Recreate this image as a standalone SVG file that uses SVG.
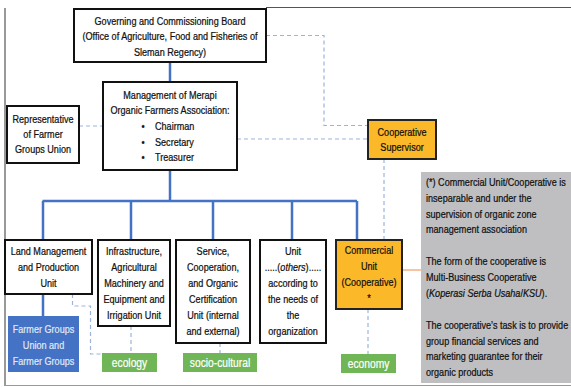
<svg xmlns="http://www.w3.org/2000/svg" width="571" height="387" viewBox="0 0 571 387">
<style>
text { font-family: "Liberation Sans", Arial, sans-serif; font-size: 11.5px; fill: #111; stroke: #111; stroke-width: 0.25px; }
.c { text-anchor: middle; transform-box: fill-box; transform-origin: 50% 50%; transform: scaleX(0.79); }
.l { transform-box: fill-box; transform-origin: 0% 50%; transform: scaleX(0.79); }
.g { font-size: 12.5px; fill: #fff; stroke: #fff; stroke-width: 0.2px; text-anchor: middle; transform-box: fill-box; transform-origin: 50% 50%; transform: scaleX(0.82); }
.w { fill: #E2EAF6; stroke: #E2EAF6; stroke-width: 0.2px; }
.box { fill: #fff; stroke: #111; stroke-width: 2; }
.org { fill: #FBB829; stroke: #222; stroke-width: 2; }
.grn { fill: #70B657; }
.solid { fill: none; stroke: #4472C4; stroke-width: 2.5; }
.dash { fill: none; stroke: #9AB3E0; stroke-width: 1.2; stroke-dasharray: 4 3; }
.frame { fill: none; stroke: #555; stroke-width: 1.2; }
</style>
<rect width="571" height="387" fill="#fff"/>
<g id="frame">
  <path class="frame" d="M5 8 V386"/>
  <path class="frame" d="M266 7.5 H571" stroke-width="1.5"/>
  <path d="M5 385.5 H571" fill="none" stroke="#999" stroke-width="1"/>
</g>
<g id="connectors">
  <path class="solid" d="M170 62 V82"/>
  <path class="solid" d="M170 170 V201"/>
  <path class="solid" d="M42.5 201 H357"/>
  <path class="solid" d="M43 201 V240 M131 201 V240 M213 201 V240 M292 201 V240 M357 201 V240"/>
  <path class="solid" d="M43 294 V316"/>
  <path class="dash" d="M79 126 H103"/>
  <path class="dash" d="M266 35.5 H324 V125.5 H368"/>
  <path class="dash" d="M237 139 H368"/>
  <path class="dash" d="M384 159 V240"/>
  <path class="dash" d="M72.5 294 V306 H90.5 V354 H102"/>
  <path class="dash" d="M131 326 V353"/>
  <path class="dash" d="M220 343 V353"/>
  <path class="dash" d="M368 309 V354"/>
  <path d="M402 270 H421" fill="none" stroke="#F4B183" stroke-width="1.5"/>
</g>
<g id="governing">
  <rect class="box" x="74" y="9" width="192" height="53"/>
  <text class="c" x="170" y="25">Governing and Commissioning Board</text>
  <text class="c" x="170" y="40.5">(Office of Agriculture, Food and Fisheries of</text>
  <text class="c" x="170" y="56">Sleman Regency)</text>
</g>
<g id="management">
  <rect class="box" x="103" y="82" width="134" height="88"/>
  <text class="c" x="170" y="99">Management of Merapi</text>
  <text class="c" x="170" y="114">Organic Farmers Association:</text>
  <text class="c" x="143" y="130">•</text>
  <text class="l" x="155" y="130">Chairman</text>
  <text class="c" x="143" y="146">•</text>
  <text class="l" x="155" y="146">Secretary</text>
  <text class="c" x="143" y="161">•</text>
  <text class="l" x="155" y="161">Treasurer</text>
</g>
<g id="representative">
  <rect class="box" x="7" y="106" width="72" height="57"/>
  <text class="c" x="43" y="123">Representative</text>
  <text class="c" x="43" y="138">of Farmer</text>
  <text class="c" x="43" y="153">Groups Union</text>
</g>
<g id="supervisor">
  <rect class="org" x="368" y="120" width="68" height="39"/>
  <text class="c" x="402" y="136.5">Cooperative</text>
  <text class="c" x="402" y="151.5">Supervisor</text>
</g>
<g id="land">
  <rect class="box" x="5" y="240" width="87" height="54"/>
  <text class="c" x="48.5" y="255.5">Land Management</text>
  <text class="c" x="48.5" y="271.5">and Production</text>
  <text class="c" x="48.5" y="287">Unit</text>
</g>
<g id="infrastructure">
  <rect class="box" x="98" y="240" width="72" height="86"/>
  <text class="c" x="134" y="255.5">Infrastructure,</text>
  <text class="c" x="134" y="271.5">Agricultural</text>
  <text class="c" x="134" y="287">Machinery and</text>
  <text class="c" x="134" y="303">Equipment and</text>
  <text class="c" x="134" y="319">Irrigation Unit</text>
</g>
<g id="service">
  <rect class="box" x="176" y="240" width="74" height="103"/>
  <text class="c" x="213" y="255.5">Service,</text>
  <text class="c" x="213" y="271.5">Cooperation,</text>
  <text class="c" x="213" y="287">and Organic</text>
  <text class="c" x="213" y="303">Certification</text>
  <text class="c" x="213" y="319">Unit (internal</text>
  <text class="c" x="213" y="335">and external)</text>
</g>
<g id="unit-others">
  <rect class="box" x="260" y="240" width="66" height="103"/>
  <text class="c" x="293" y="255.5">Unit</text>
  <text class="c" x="293" y="271.5">.....(<tspan font-style="italic">others</tspan>).....</text>
  <text class="c" x="293" y="287">according to</text>
  <text class="c" x="293" y="303">the needs of</text>
  <text class="c" x="293" y="319">the</text>
  <text class="c" x="293" y="335">organization</text>
</g>
<g id="commercial">
  <rect class="org" x="336" y="240" width="66" height="69"/>
  <text class="c" x="369" y="254.5">Commercial</text>
  <text class="c" x="369" y="270.5">Unit</text>
  <text class="c" x="369" y="286.5">(Cooperative)</text>
  <text class="c" x="369" y="302.5">*</text>
</g>
<g id="farmer-groups">
  <rect x="8" y="316" width="71" height="56" fill="#4472C4"/>
  <text class="c w" x="43.5" y="333">Farmer Groups</text>
  <text class="c w" x="43.5" y="349">Union and</text>
  <text class="c w" x="43.5" y="365">Farmer Groups</text>
</g>
<g id="ecology">
  <rect class="grn" x="102" y="353" width="55" height="19"/>
  <text class="g" x="129.5" y="367.5">ecology</text>
</g>
<g id="socio-cultural">
  <rect class="grn" x="183" y="353" width="74" height="19"/>
  <text class="g" x="220" y="367.5">socio-cultural</text>
</g>
<g id="economy">
  <rect class="grn" x="341" y="354" width="55" height="19"/>
  <text class="g" x="368.5" y="368.5">economy</text>
</g>
<g id="note">
  <rect x="421" y="172" width="150" height="211" fill="#BFBFC1"/>
  <text class="l" x="426" y="186.5">(*) Commercial Unit/Cooperative is</text>
  <text class="l" x="426" y="202">inseparable and under the</text>
  <text class="l" x="426" y="218">supervision of organic zone</text>
  <text class="l" x="426" y="233.5">management association</text>
  <text class="l" x="426" y="265.5">The form of the cooperative is</text>
  <text class="l" x="426" y="281.5">Multi-Business Cooperative</text>
  <text class="l" x="426" y="297">(<tspan font-style="italic">Koperasi Serba Usaha</tspan>/<tspan font-style="italic">KSU</tspan>).</text>
  <text class="l" x="426" y="329.5">The cooperative’s task is to provide</text>
  <text class="l" x="426" y="345.5">group financial services and</text>
  <text class="l" x="426" y="360.5">marketing guarantee for their</text>
  <text class="l" x="426" y="376.5">organic products</text>
</g>
</svg>
